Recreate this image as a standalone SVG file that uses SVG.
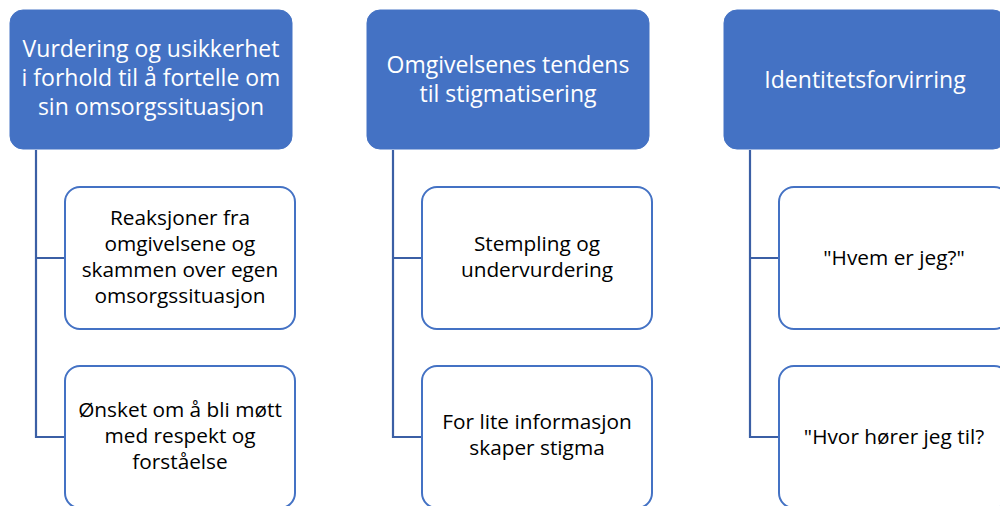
<svg xmlns="http://www.w3.org/2000/svg" width="1000" height="506" viewBox="0 0 1000 506">
<style>
.hdr{fill:#4472C4;stroke:#4472C4;stroke-width:1}
.chd{fill:#ffffff;stroke:#4472C4;stroke-width:2}
.ht{font-family:"Open Sans","Liberation Sans",sans-serif;font-size:23px;fill:#ffffff;text-anchor:middle}
.ct{font-family:"Open Sans","Liberation Sans",sans-serif;font-size:20.8px;fill:#000000;text-anchor:middle}
.con{fill:none;stroke:#3B5FA5;stroke-width:2.2}
</style>
<rect width="1000" height="506" fill="#ffffff"/>
<g id="connectors">
<path class="con" d="M36,150 V437 H65 M36,258 H65"/>
<path class="con" d="M393,150 V437 H422 M393,258 H422"/>
<path class="con" d="M750,150 V437 H779 M750,258 H779"/>
</g>
<g id="h1">
<rect class="hdr" x="10" y="10" width="282" height="139" rx="13"/>
<text class="ht"><tspan x="151" y="57">Vurdering og usikkerhet</tspan><tspan x="151" y="86">i forhold til å fortelle om</tspan><tspan x="151" y="115">sin omsorgssituasjon</tspan></text>
</g>
<g id="h2">
<rect class="hdr" x="367" y="10" width="282" height="139" rx="13"/>
<text class="ht"><tspan x="508" y="72.5">Omgivelsenes tendens</tspan><tspan x="508" y="101.5">til stigmatisering</tspan></text>
</g>
<g id="h3">
<rect class="hdr" x="724" y="10" width="282" height="139" rx="13"/>
<text class="ht" x="865" y="88">Identitetsforvirring</text>
</g>
<g id="c1a">
<rect class="chd" x="65" y="187" width="230" height="142" rx="15"/>
<text class="ct"><tspan x="180" y="225">Reaksjoner fra</tspan><tspan x="180" y="251">omgivelsene og</tspan><tspan x="180" y="277">skammen over egen</tspan><tspan x="180" y="303">omsorgssituasjon</tspan></text>
</g>
<g id="c1b">
<rect class="chd" x="65" y="366" width="230" height="142" rx="15"/>
<text class="ct"><tspan x="180" y="417">Ønsket om å bli møtt</tspan><tspan x="180" y="443">med respekt og</tspan><tspan x="180" y="469">forståelse</tspan></text>
</g>
<g id="c2a">
<rect class="chd" x="422" y="187" width="230" height="142" rx="15"/>
<text class="ct"><tspan x="537" y="251">Stempling og</tspan><tspan x="537" y="277">undervurdering</tspan></text>
</g>
<g id="c2b">
<rect class="chd" x="422" y="366" width="230" height="142" rx="15"/>
<text class="ct"><tspan x="537" y="429">For lite informasjon</tspan><tspan x="537" y="455">skaper stigma</tspan></text>
</g>
<g id="c3a">
<rect class="chd" x="779" y="187" width="230" height="142" rx="15"/>
<text class="ct" x="894" y="265">"Hvem er jeg?"</text>
</g>
<g id="c3b">
<rect class="chd" x="779" y="366" width="230" height="142" rx="15"/>
<text class="ct" x="894" y="444">"Hvor hører jeg til?</text>
</g>
</svg>
